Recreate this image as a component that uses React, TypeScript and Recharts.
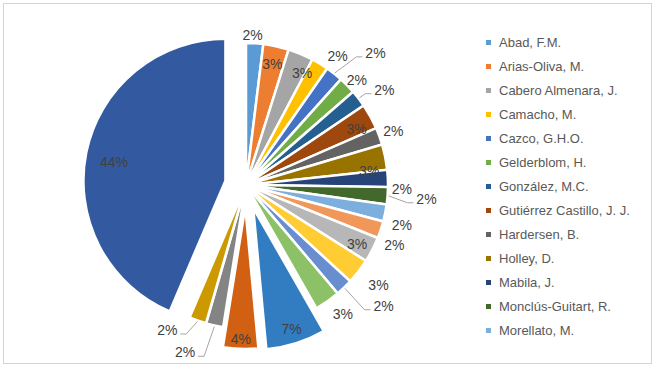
import React from "react";
import { PieChart, Pie, Cell, Sector, Legend } from "recharts";

// authors (only the first 13 fit in the legend of the original)
const authors = [
  "Abad, F.M.",
  "Arias-Oliva, M.",
  "Cabero Almenara, J.",
  "Camacho, M.",
  "Cazco, G.H.O.",
  "Gelderblom, H.",
  "González, M.C.",
  "Gutiérrez Castillo, J. J.",
  "Hardersen, B.",
  "Holley, D.",
  "Mabila, J.",
  "Monclús-Guitart, R.",
  "Morellato, M.",
  "Autor 14",
  "Autor 15",
  "Autor 16",
  "Autor 17",
  "Autor 18",
  "Autor 19",
  "Autor 20",
  "Autor 21",
  "Autor 22",
  "Otros",
];

// share of publications (%)
const shares = [
  1.95, 2.9, 2.9, 1.95, 1.95, 1.95, 1.95, 2.9, 1.95, 2.9, 1.95, 1.95, 1.95,
  1.95, 2.9, 2.9, 1.95, 2.9, 6.8, 4.0, 1.95, 1.95, 43.6,
];

// office palette, in series order
const colors = [
  "#5B9BD5", "#ED7D31", "#A5A5A5", "#FFC000", "#4472C4", "#70AD47",
  "#255E91", "#9E480E", "#636363", "#997300", "#264478", "#43682B",
  "#7CAFDD", "#F1975A", "#B7B7B7", "#FFCD33", "#698ED0", "#8CC168",
  "#327DC2", "#D26012", "#848484", "#CC9A00", "#335AA1",
];

const LEGEND_ROWS = 13;

// how far each slice is pulled out (px)
const explode = [
  0, 0, 0, 0, 0, 0, 0, 0, 0, 0, 0, 0, 0, 0, 0, 0, 0, 0, 24, 22, 2, 2, 21,
];

// label placement: distance from slice centre, angle nudge (deg, clockwise), leader line
const labelPos: [number, number, boolean][] = [
  [150, -1, false],
  [124, 0, false],
  [125, 4, false],
  [158, 4, false],
  [185, 6, true],
  [153, 1, false],
  [168, 3, true],
  [124, 2, false],
  [157, 0, false],
  [124, 5, false],
  [156, 4, false],
  [181, 0, true],
  [161, 3, false],
  [160, 3.5, false],
  [126, 1, false],
  [166, -0.5, false],
  [183, -5, true],
  [161, -2, false],
  [127, 0, false],
  [132, 0, false],
  [176, 7.5, true],
  [163, 9, true],
  [113, -2, false],
];

const data = authors.map((name, i) => ({ name, value: shares[i], idx: i }));

const RAD = Math.PI / 180;
const polar = (cx: number, cy: number, r: number, a: number) => ({
  x: cx + r * Math.cos(-a * RAD),
  y: cy + r * Math.sin(-a * RAD),
});

const getIdx = (p: any) => (p.payload?.idx ?? p.idx ?? p.index ?? 0) as number;

const ExplodedSector = (props: any) => {
  const i = getIdx(props);
  const c = polar(props.cx, props.cy, explode[i] || 0, props.midAngle);
  return <Sector {...props} cx={c.x} cy={c.y} />;
};

const renderLabel = (props: any) => {
  const i = getIdx(props);
  const { cx, cy, midAngle, outerRadius, percent } = props;
  const c = polar(cx, cy, explode[i] || 0, midAngle);
  const [r, nudge, leader] = labelPos[i];
  const p = polar(c.x, c.y, r, midAngle - nudge);
  const text = `${Math.round(percent * 100)}%`;
  let line = null;
  if (leader) {
    const s = p.x > c.x ? 1 : -1;
    const start = polar(c.x, c.y, outerRadius + 1, midAngle);
    const ax = p.x - s * 13;
    const ay = p.y + 4;
    line = (
      <polyline
        points={`${start.x},${start.y} ${ax - s * 6},${ay} ${ax},${ay}`}
        fill="none"
        stroke="#a6a6a6"
        strokeWidth={1}
      />
    );
  }
  return (
    <g key={`lbl-${i}`}>
      {line}
      <text
        x={p.x}
        y={p.y}
        textAnchor="middle"
        dominantBaseline="central"
        fill="#404040"
        fontSize={14}
        fontFamily='"Liberation Sans", Arial, sans-serif'
      >
        {text}
      </text>
    </g>
  );
};

// the legend keeps series order and stops where the box runs out of room
const renderLegend = () => (
  <div>
    {authors.slice(0, LEGEND_ROWS).map((name, i) => (
      <div
        key={name}
        style={{
          display: "flex",
          alignItems: "center",
          height: 24,
          fontSize: 13,
          color: "#595959",
          whiteSpace: "nowrap",
        }}
      >
        <span
          style={{
            display: "inline-block",
            width: 5,
            height: 5,
            background: colors[i],
            marginRight: 8,
          }}
        />
        {name}
      </div>
    ))}
  </div>
);

export default function App() {
  return (
    <div
      style={{
        position: "absolute",
        left: 0,
        top: 0,
        width: 659,
        height: 369,
        background: "#fff",
        fontFamily: '"Liberation Sans", Arial, sans-serif',
      }}
    >
      <div
        style={{
          position: "absolute",
          left: 3,
          top: 3,
          width: 647,
          height: 359,
          border: "1px solid #d4d4d4",
        }}
      />
      <div style={{ position: "absolute", left: 0, top: 0 }}>
        <PieChart width={659} height={369}>
          <Pie
            data={data}
            dataKey="value"
            nameKey="name"
            cx={241}
            cy={180}
            outerRadius={142}
            startAngle={90}
            endAngle={-270}
            stroke="#ffffff"
            strokeWidth={2.5}
            shape={ExplodedSector}
            activeShape={ExplodedSector}
            inactiveShape={ExplodedSector}
            label={renderLabel}
            labelLine={false}
            isAnimationActive={false}
          >
            {data.map((d, i) => (
              <Cell key={d.name} fill={colors[i]} />
            ))}
          </Pie>
          <Legend
            layout="vertical"
            align="right"
            verticalAlign="top"
            content={renderLegend}
            wrapperStyle={{ position: "absolute", left: 486, top: 30, width: 170 }}
          />
        </PieChart>
      </div>
    </div>
  );
}
